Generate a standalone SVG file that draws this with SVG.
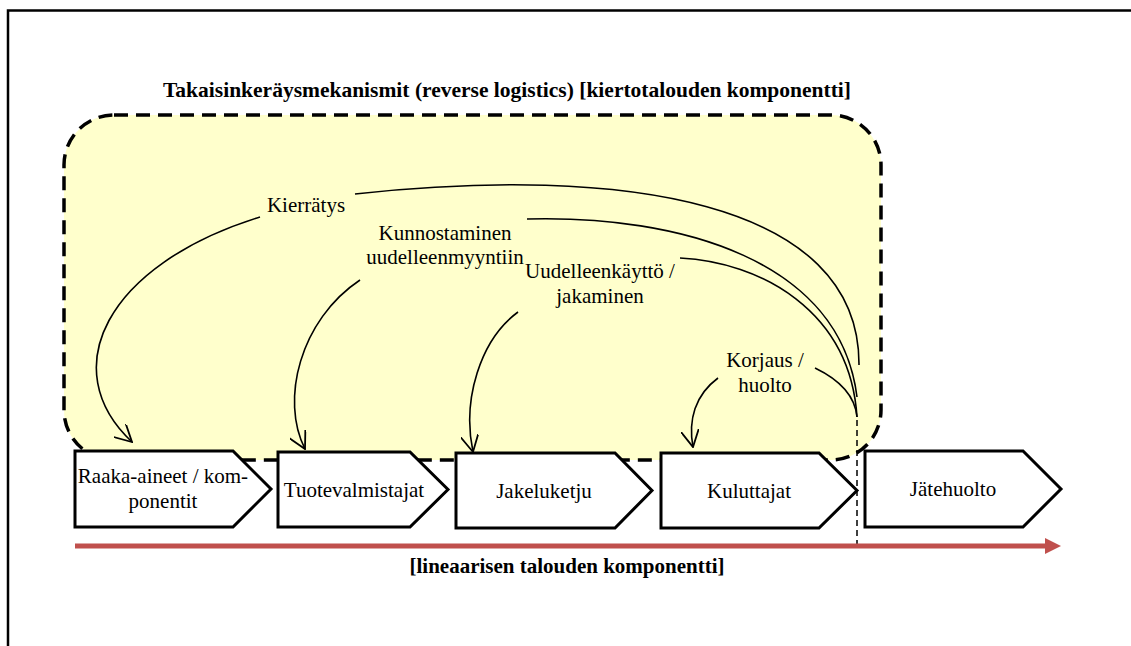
<svg xmlns="http://www.w3.org/2000/svg" width="1131" height="646" viewBox="0 0 1131 646">
<style>
text{font-family:"Liberation Serif","Times New Roman",serif;font-size:21px;fill:#000;text-anchor:middle}
.b{font-weight:bold}
.box{fill:#fff;stroke:#000;stroke-width:3;stroke-linejoin:miter}
.c{fill:none;stroke:#000;stroke-width:1.6}
.ca{fill:none;stroke:#000;stroke-width:1.6;marker-end:url(#ah)}
</style>
<defs>
<marker id="ah" markerUnits="userSpaceOnUse" markerWidth="18" markerHeight="18" viewBox="0 0 16 16" refX="15" refY="8" orient="auto">
<path d="M0,0 L15,8 L0,16" fill="none" stroke="#000" stroke-width="1.6"/>
</marker>
</defs>
<rect x="8" y="10.5" width="1200" height="700" fill="none" stroke="#000" stroke-width="2.5"/>
<text class="b" x="507" y="97" style="font-size:21.5px">Takaisinkeräysmekanismit (reverse logistics) [kiertotalouden komponentti]</text>
<rect id="reverse-area" x="64" y="115" width="817" height="345" rx="50" ry="50" fill="#FFFFCC" stroke="#000" stroke-width="3.5" stroke-dasharray="14 8"/>
<g id="connectors">
<path class="c" d="M355 194 C620 165 860 200 859 365"/>
<path class="ca" d="M260 217 C105 265 55 370 132 442"/>
<path class="c" d="M527 219 C680 215 840 260 857 397"/>
<path class="ca" d="M360 280 C300 320 280 400 305 449"/>
<path class="c" d="M680 258 C760 262 850 310 857 417"/>
<path class="ca" d="M518 312 C480 340 462 400 473 452"/>
<path class="c" d="M815 368 C840 380 855 395 857 417"/>
<path class="ca" d="M718 378 C695 395 688 420 693 447"/>
<line x1="857" y1="420" x2="857" y2="545" stroke="#000" stroke-width="1.5" stroke-dasharray="6 4"/>
<line x1="75" y1="546" x2="1047" y2="546" stroke="#C0504D" stroke-width="5"/>
<polygon points="1045,538 1061,546 1045,554" fill="#C0504D"/>
</g>
<g id="labels">
<text x="306" y="212">Kierrätys</text>
<text x="445" y="240">Kunnostaminen</text>
<text x="445" y="264">uudelleenmyyntiin</text>
<text x="600" y="278">Uudelleenkäyttö /</text>
<text x="600" y="303">jakaminen</text>
<text x="765" y="367">Korjaus /</text>
<text x="765" y="392">huolto</text>
</g>
<g id="raaka-aineet">
<polygon class="box" points="75,451 233,451 271,489 233,527 75,527"/>
<text x="163" y="483">Raaka-aineet / kom-</text>
<text x="163" y="508">ponentit</text>
</g>
<g id="tuotevalmistajat">
<polygon class="box" points="278,452 410,452 448,489.5 410,527 278,527"/>
<text x="354" y="497">Tuotevalmistajat</text>
</g>
<g id="jakeluketju">
<polygon class="box" points="456,453 615,453 652,490.5 615,528 456,528"/>
<text x="544" y="498">Jakeluketju</text>
</g>
<g id="kuluttajat">
<polygon class="box" points="661,453 819,453 857,490.5 819,528 661,528"/>
<text x="749" y="498">Kuluttajat</text>
</g>
<g id="jatehuolto">
<polygon class="box" points="865,451 1023,451 1061,489 1023,527 865,527"/>
<text x="953" y="496">Jätehuolto</text>
</g>
<text class="b" x="567" y="573">[lineaarisen talouden komponentti]</text>
</svg>
